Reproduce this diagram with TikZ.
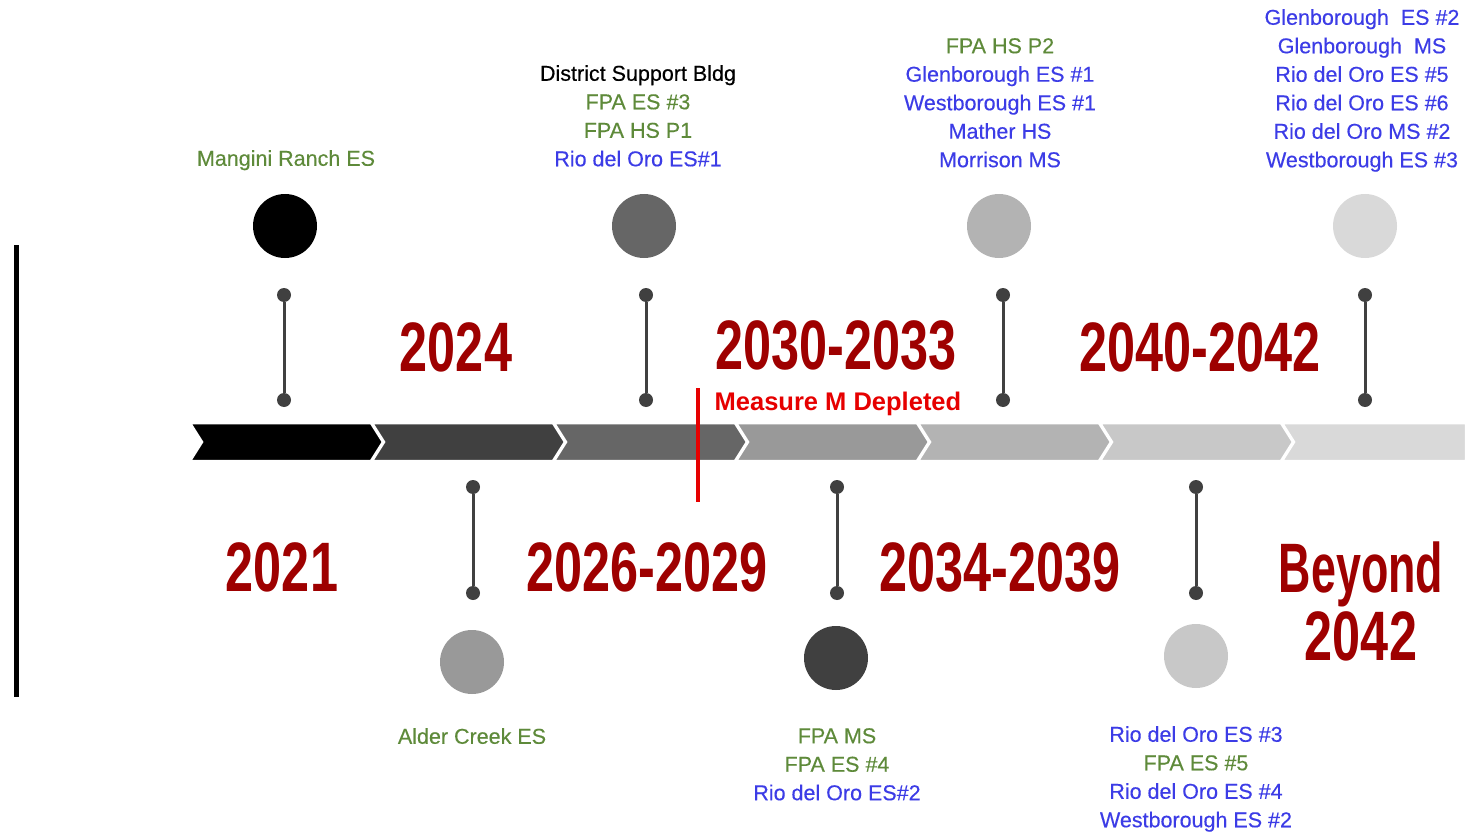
\documentclass[tikz,border=0pt]{standalone}
\usepackage{fontspec}
\setmainfont{Liberation Sans}
\newfontfamily\lblfont[FakeBold=0.35]{Liberation Sans}
\definecolor{lgreen}{HTML}{5E8A3A}
\definecolor{lblue}{HTML}{3C3CE6}
\definecolor{yred}{HTML}{9E0000}
\definecolor{mred}{HTML}{E60000}
\definecolor{stemc}{HTML}{404040}
\definecolor{cA}{HTML}{000000}
\definecolor{cB}{HTML}{404040}
\definecolor{cC}{HTML}{666666}
\definecolor{cD}{HTML}{999999}
\definecolor{cE}{HTML}{B3B3B3}
\definecolor{cF}{HTML}{C8C8C8}
\definecolor{cG}{HTML}{D9D9D9}
\tikzset{
  chev/.style={draw=white, line width=2.5pt, line join=miter},
  bigdot/.style={circle, minimum size=64pt, inner sep=0pt},
  pin/.style={circle, fill=stemc, minimum size=14pt, inner sep=0pt},
  stem/.style={draw=stemc, line width=3pt},
  year/.style={text=yred, font=\fontsize{70}{68}\selectfont\bfseries, inner sep=0pt, align=center},
  lbl/.style={font=\lblfont\fontsize{21.5}{28.5}\selectfont, align=center, inner sep=0pt, anchor=north}
}
\newcommand{\yr}[1]{\scalebox{0.72}[1]{#1}}
\newcommand{\G}[1]{\textcolor{lgreen}{#1}}
\newcommand{\B}[1]{\textcolor{lblue}{#1}}
\begin{document}
\begin{tikzpicture}[x=1pt,y=-1pt]
\useasboundingbox (0,0) rectangle (1468,832);
% left bar
\draw[line width=5pt] (16,245) -- (16,697);
% chevrons
\foreach \i/\c in {0/cA,1/cB,2/cC,3/cD,4/cE,5/cF}{
  \pgfmathsetmacro{\L}{190+182*\i}
  \pgfmathsetmacro{\R}{\L+181}
  \filldraw[chev, fill=\c] (\L,423) -- (\R,423) -- (\R+12,442) -- (\R,461) -- (\L,461) -- (\L+12,442) -- cycle;
}
\filldraw[chev, fill=cG] (1282,423) -- (1466,423) -- (1466,461) -- (1282,461) -- (1294,442) -- cycle;
% measure M
\draw[mred, line width=4pt] (698,388) -- (698,502);
\node[text=mred, font=\fontsize{25.5}{25.5}\selectfont\bfseries, inner sep=0pt] (mm) at (838,404) {Measure M Depleted};
% big circles
\node[bigdot, fill=cA] (c1) at (285,226) {};
\node[bigdot, fill=cC] (c3) at (644,226) {};
\node[bigdot, fill=cE] (c5) at (999,226) {};
\node[bigdot, fill=cG] (c7) at (1365,226) {};
\node[bigdot, fill=cD] (c2) at (472,662) {};
\node[bigdot, fill=cB] (c4) at (836,658) {};
\node[bigdot, fill=cF] (c6) at (1196,656) {};
% stems
\foreach \n/\x/\a/\b in {t1/284/295/400, t3/646/295/400, t5/1003/295/400, t7/1365/295/400, b2/473/487/593, b4/837/487/593, b6/1196/487/593}{
  \node[pin] (\n a) at (\x,\a) {};
  \node[pin] (\n b) at (\x,\b) {};
  \draw[stem] (\n a) -- (\n b);
}
% years
\node[year] (y2024) at (456,347) {\yr{2024}};
\node[year] (y3033) at (836,345) {\yr{2030-2033}};
\node[year] (y4042) at (1200,347) {\yr{2040-2042}};
\node[year] (y2021) at (282,567) {\yr{2021}};
\node[year] (y2629) at (647,567) {\yr{2026-2029}};
\node[year] (y3439) at (1000,567) {\yr{2034-2039}};
\node[year] (ybey) at (1361,601) {\scalebox{0.64}[1]{Beyond}\\\yr{2042}};
% labels
\node[lbl] (l1) at (286,150) {\G{Mangini Ranch ES}};
\node[lbl] (l3) at (638,65) {District Support Bldg\\\G{FPA ES \#3}\\\G{FPA HS P1}\\\B{Rio del Oro ES\#1}};
\node[lbl] (l5) at (1000,38) {\G{FPA HS P2}\\\B{Glenborough ES \#1}\\\B{Westborough ES \#1}\\\B{Mather HS}\\\B{Morrison MS}};
\node[lbl] (l7) at (1362,9) {\B{Glenborough\ \ ES \#2}\\\B{Glenborough\ \ MS}\\\B{Rio del Oro ES \#5}\\\B{Rio del Oro ES \#6}\\\B{Rio del Oro MS \#2}\\\B{Westborough ES \#3}};
\node[lbl] (l2) at (472,728) {\G{Alder Creek ES}};
\node[lbl] (l4) at (837,728) {\G{FPA MS}\\\G{FPA ES \#4}\\\B{Rio del Oro ES\#2}};
\node[lbl] (l6) at (1196,726) {\B{Rio del Oro ES \#3}\\\G{FPA ES \#5}\\\B{Rio del Oro ES \#4}\\\B{Westborough ES \#2}};
\end{tikzpicture}
\end{document}
